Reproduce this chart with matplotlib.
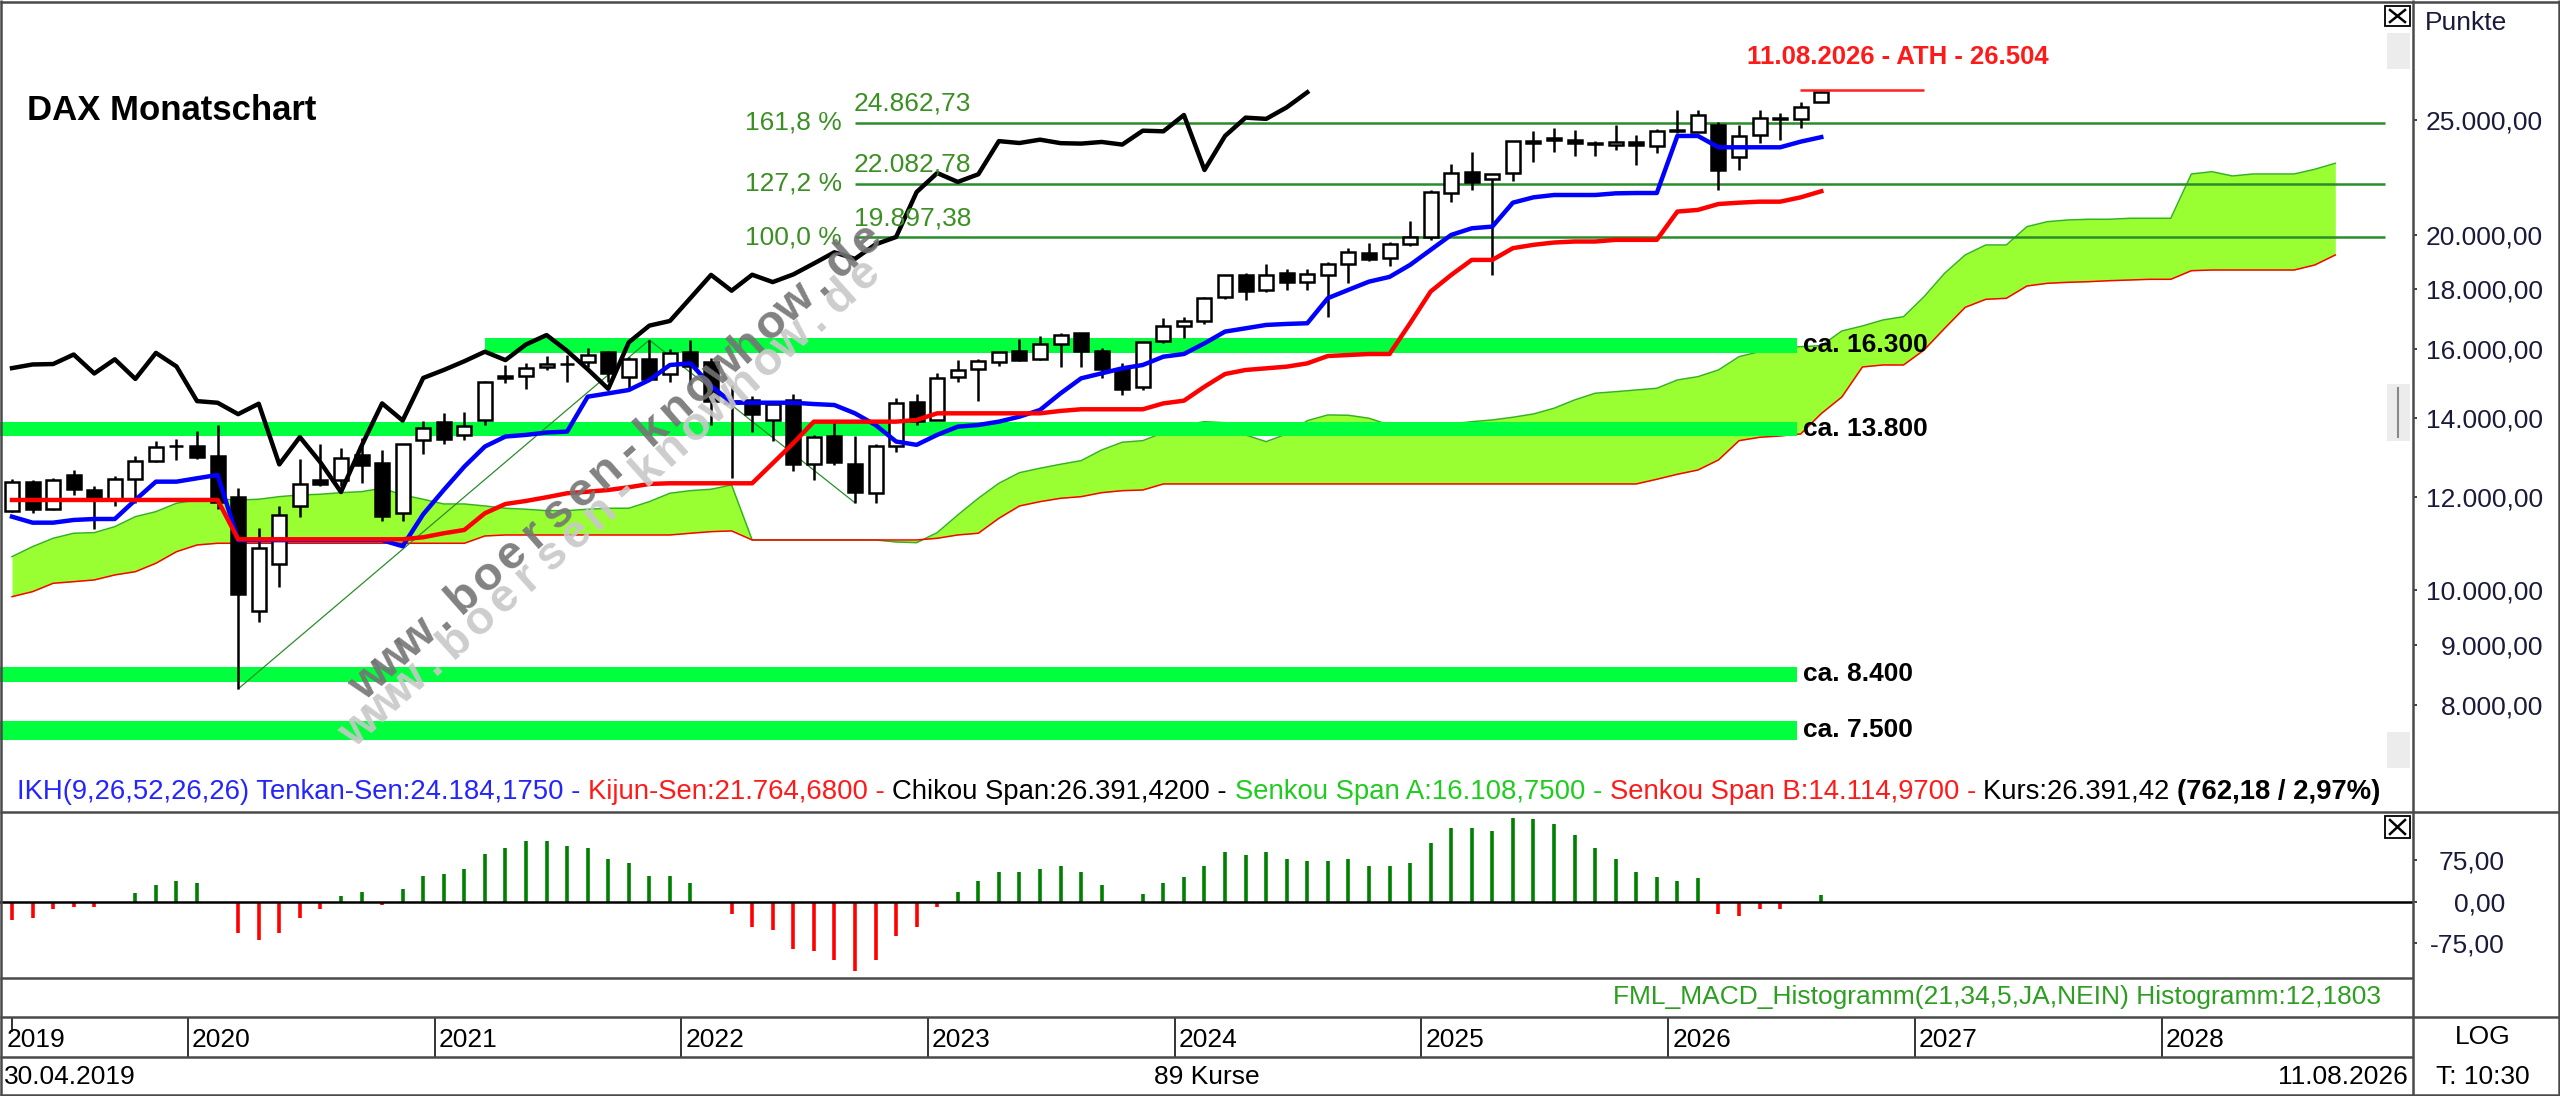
import numpy as np
import matplotlib
matplotlib.use("Agg")
import matplotlib.pyplot as plt
from matplotlib.ticker import NullLocator
from matplotlib.patches import Rectangle

# DAX monthly candles, 30.04.2019 .. 11.08.2026 (89 Kurse)
opens = [11680, 12345, 11730, 12520, 12150, 11950, 12420, 12880, 13250, 13250,
         13000, 12000, 9600, 10520, 11800, 12400, 12400, 13020, 12810, 11620,
         13400, 13890, 13540, 13950, 15180, 15200, 15450, 15550, 15600, 15900,
         15150, 15700, 15250, 15900, 15600, 14460, 14500, 13950, 14500, 12800,
         13500, 12800, 12100, 13250, 14450, 13950, 15150, 15400, 15620, 15930,
         15700, 16150, 16500, 15950, 15400, 14850, 16250, 16750, 16900, 17700,
         18500, 17950, 18550, 18250, 18500, 18900, 19300, 19100, 19650, 19900,
         21700, 22600, 22300, 22550, 24000, 24120, 24050, 23900, 23800, 23950,
         23780, 24500, 24450, 24765, 23280, 24290, 25120, 25040, 25900]
highs = [12435, 12410, 12440, 12656, 12250, 12494, 12988, 13374, 13425, 13640,
         13795, 12200, 11290, 11790, 12913, 13314, 13200, 13460, 13150, 13300,
         13900, 14131, 14169, 15033, 15501, 15568, 15802, 15810, 16030, 15950,
         15750, 16290, 16000, 16285, 15736, 14925, 14600, 14400, 14677, 13531,
         13948, 13522, 13300, 14554, 14675, 15269, 15658, 15706, 15925, 16332,
         16427, 16529, 16500, 16043, 15575, 16240, 17003, 17028, 17699, 18500,
         18568, 18893, 18690, 18700, 18970, 19492, 19675, 19700, 20523, 21800,
         22935, 23476, 22500, 24000, 24479, 24639, 24500, 24000, 24771, 24300,
         24550, 25500, 25500, 24926, 24765, 25499, 25367, 25916, 26504]
lows = [11650, 11620, 11690, 12050, 11266, 11800, 11850, 12850, 12888, 12930,
        11724, 8255, 9400, 10072, 11540, 12250, 12253, 12340, 11450, 11450,
        13040, 13300, 13400, 13800, 14990, 14816, 15350, 15000, 15450, 15000,
        14800, 15100, 15000, 14930, 13808, 12439, 13610, 13381, 12618, 12391,
        12780, 11862, 11869, 13100, 13791, 13950, 15000, 14459, 15483, 15630,
        15660, 15456, 15469, 15138, 14630, 14790, 16200, 16345, 16800, 17660,
        17626, 17900, 17950, 17950, 17025, 18200, 19000, 18800, 19580, 19800,
        21300, 21800, 18489, 22200, 23050, 23500, 23300, 23300, 23600, 22900,
        23465, 24370, 24440, 21819, 22685, 23896, 24052, 24604, 25880]
closes = [12344, 11727, 12399, 12189, 11939, 12428, 12867, 13236, 13249, 12981,
          11890, 9936, 10862, 11587, 12311, 12313, 12945, 12761, 11556, 13291,
          13719, 13433, 13786, 15008, 15136, 15421, 15531, 15544, 15835, 15261,
          15688, 15100, 15885, 15471, 14461, 14415, 14098, 14388, 12784, 13484,
          12835, 12114, 13253, 14397, 13924, 15128, 15365, 15629, 15922, 15664,
          16148, 16447, 15947, 15387, 14810, 16215, 16752, 16904, 17678, 18492,
          17932, 18498, 18235, 18509, 18907, 19325, 19078, 19626, 19909, 21732,
          22551, 22163, 22497, 23997, 23909, 24065, 23902, 23881, 23958, 23836,
          24490, 24460, 25250, 22685, 24240, 25120, 25060, 25629, 26391]

# Ichimoku lines
tenkan = [11546, 11412, 11412, 11472, 11494, 11494, 11928, 12361, 12361, 12443,
          12523, 11030, 11030, 11030, 11030, 11030, 11030, 11030, 11030, 10900,
          11600, 12163, 12728, 13236, 13497, 13540, 13602, 13628, 14586, 14681,
          14777, 15068, 15515, 15565, 14900, 14420, 14416, 14416, 14416, 14379,
          14351, 14121, 13804, 13366, 13280, 13541, 13759, 13804, 13894, 14030,
          14214, 14681, 15117, 15265, 15415, 15515, 15769, 15851, 16184, 16558,
          16665, 16774, 16807, 16829, 17673, 17961, 18250, 18420, 18856, 19415,
          19989, 20250, 20316, 21285, 21508, 21606, 21606, 21606, 21676, 21690,
          21690, 24240, 24240, 23710, 23710, 23710, 23710, 23973, 24184]
kijun = [11928, 11928, 11928, 11928, 11928, 11928, 11928, 11928, 11928, 11928,
         11928, 11049, 11049, 11049, 11049, 11049, 11049, 11049, 11049, 11049,
         11092, 11179, 11251, 11623, 11835, 11905, 11991, 12085, 12122, 12162,
         12227, 12306, 12322, 12322, 12322, 12322, 12322, 12812, 13323, 13894,
         13894, 13894, 13894, 13894, 13939, 14121, 14121, 14121, 14121, 14121,
         14121, 14187, 14233, 14233, 14233, 14233, 14397, 14473, 14873, 15245,
         15365, 15415, 15465, 15565, 15789, 15820, 15851, 15851, 16829, 17902,
         18490, 19040, 19040, 19480, 19607, 19696, 19734, 19734, 19799, 19799,
         19799, 20920, 20988, 21230, 21285, 21327, 21327, 21508, 21765]
span_a = [10681, 10891, 11070, 11179, 11192, 11323, 11546, 11659, 11851, 11928,
          11944, 11928, 11944, 12005, 12045, 12061, 12099, 12122, 12203, 12045,
          11944, 11835, 11835, 11789, 11737, 11714, 11682, 11682, 11714, 11737,
          11737, 11889, 12085, 12146, 12179, 12282, 11034, 11034, 11034, 11034,
          11034, 11034, 11034, 10991, 10976, 11192, 11584, 11967, 12322, 12579,
          12688, 12787, 12877, 13148, 13347, 13389, 13599, 13804, 13893, 13866,
          13538, 13363, 13565, 13920, 14076, 14068, 13986, 13804, 13625, 13625,
          13831, 13893, 13940, 14013, 14103, 14261, 14493, 14684, 14729, 14778,
          14827, 15069, 15166, 15366, 15769, 15923, 16029, 16079, 16110, 16578,
          16740, 16937, 17046, 17723, 18551, 19224, 19602, 19602, 20313, 20512,
          20580, 20608, 20608, 20648, 20648, 20648, 22509, 22610, 22422, 22509,
          22509, 22509, 22716, 22983]
span_b = [9880, 9977, 10141, 10173, 10207, 10307, 10373, 10544, 10785, 10927,
          10963, 10963, 10963, 10963, 10963, 10963, 10963, 10963, 10963, 10963,
          10963, 10963, 10963, 11120, 11142, 11142, 11142, 11142, 11142, 11142,
          11142, 11142, 11142, 11179, 11214, 11230, 11034, 11034, 11034, 11034,
          11034, 11034, 11034, 11034, 11034, 11070, 11142, 11179, 11510, 11789,
          11889, 11967, 12005, 12099, 12146, 12162, 12306, 12306, 12306, 12306,
          12306, 12306, 12306, 12306, 12306, 12306, 12306, 12306, 12306, 12306,
          12306, 12306, 12306, 12306, 12306, 12306, 12306, 12306, 12306, 12306,
          12419, 12540, 12645, 12895, 13389, 13477, 13512, 13565, 14115, 14578,
          15456, 15516, 15516, 15976, 16665, 17360, 17633, 17668, 18096, 18192,
          18227, 18249, 18284, 18309, 18334, 18334, 18644, 18669, 18669, 18669,
          18669, 18669, 18852, 19224]
CHIKOU_SHIFT = 25

macd_hist = [-33, -30, -14, -9, -9, 0, 15, 30, 38, 34,
             0, -57, -69, -57, -30, -14, 10, 18, -6, 22,
             46, 50, 58, 85, 97, 109, 109, 101, 97, 77,
             69, 46, 46, 34, 0, -22, -45, -50, -85, -89,
             -105, -124, -105, -61, -45, -10, 18, 38, 53, 53,
             58, 65, 53, 30, 0, 14, 33, 45, 65, 89,
             84, 89, 77, 73, 73, 77, 65, 65, 69, 105,
             132, 132, 128, 151, 148, 140, 120, 97, 77, 53,
             45, 38, 42, -22, -26, -14, -14, 0, 12.18]

years = [2019, 2020, 2021, 2022, 2023, 2024, 2025, 2026, 2027, 2028]
first_month = 4  # April 2019
price_ticks = [8000, 9000, 10000, 12000, 14000, 16000, 18000, 20000, 25000]
macd_ticks = [-75, 0, 75]

fib_levels = [19897.38, 22082.78, 24862.73]
fib_labels = ["100,0 %", "127,2 %", "161,8 %"]
fib_idx = [11, 31, 41]
fib_px = [8255.65, 16290.19, 11862.84]

band_labels = ["ca. 16.300", "ca. 13.800", "ca. 8.400", "ca. 7.500"]
band_lo = [15890, 13510, 8372, 7474]
band_hi = [16350, 13895, 8621, 7760]
band_from = [23, None, None, None]
ath = 26504

W, H = 2560, 1096
plt.rcParams['font.family'] = ['Liberation Sans', 'DejaVu Sans']


def de(v, nd=2):
    s = f"{v:,.{nd}f}"
    return s.replace(",", "#").replace(".", ",").replace("#", ".")


fig = plt.figure(figsize=(W / 100, H / 100), dpi=100, facecolor='white')


def px_axes(x0, y0, x1, y1, **kw):
    return fig.add_axes([x0 / W, 1 - y1 / H, (x1 - x0) / W, (y1 - y0) / H], **kw)


XL = (-0.584, 116.78)
idx = np.arange(len(closes))
TXT = '#1a1a3a'
FIB = '#2b8c2b'

# ---------------- main price panel
ax = px_axes(0, 0, 2413, 812)
ax.set_yscale('log')
ax.set_xlim(*XL)
ax.set_ylim(6495, 31590)
ax.set_frame_on(False)
ax.set_xticks([])
ax.yaxis.tick_right()
ax.set_yticks(price_ticks)
ax.set_yticklabels([de(v) for v in price_ticks])
ax.yaxis.set_minor_locator(NullLocator())
ax.tick_params(axis='y', direction='out', length=3, width=1.3, color='#333333',
               pad=90.6, labelsize=19, labelcolor=TXT)
for lab in ax.get_yticklabels():
    lab.set_horizontalalignment('right')

cx = np.arange(len(span_a))
ax.fill_between(cx, span_a, span_b, color='#99ff33', lw=0, zorder=1)
ax.plot(cx, span_a, color='#33b41e', lw=1.1, zorder=2)
ax.plot(cx, span_b, color='#ff0000', lw=1.1, zorder=2)

band_end = 86.8
for lab, lo, hi, x0 in zip(band_labels, band_lo, band_hi, band_from):
    x0 = XL[0] if x0 is None else x0
    ax.fill_between([x0, band_end], lo, hi, color='#00ff3c', lw=0, zorder=3)
    ax.text(87.1, np.sqrt(lo * hi), lab, ha='left', va='center', fontsize=19,
            fontweight='bold', color='black', zorder=8)

ax.plot(fib_idx, fib_px, color=FIB, lw=0.9, zorder=4)
for lev, lab in zip(fib_levels, fib_labels):
    ax.hlines(lev, fib_idx[-1], 115.4, color=FIB, lw=1.8, zorder=4)
    ax.text(40.37, lev, lab, ha='right', va='center', color='#3c8f24', fontsize=19, zorder=8)
    ax.annotate(de(lev), (40.95, lev), xytext=(0, 5), textcoords='offset points',
                ha='left', va='bottom', color='#3c8f24', fontsize=19, zorder=8)

o, hi_, lo_, c = (np.array(a, dtype=float) for a in (opens, highs, lows, closes))
ax.vlines(idx, lo_, hi_, color='black', lw=1.8, zorder=5)
ax.bar(idx, np.abs(c - o), bottom=np.minimum(o, c), width=0.68,
       color=['white' if u else 'black' for u in c >= o],
       edgecolor='black', linewidth=1.8, zorder=6)

ax.plot(idx, tenkan, color='#0000ff', lw=3.2, zorder=7)
ax.plot(idx, kijun, color='#ff0000', lw=3.2, zorder=7)
ax.plot(idx[:len(closes) - CHIKOU_SHIFT], c[CHIKOU_SHIFT:], color='black', lw=3.2, zorder=7)

ax.hlines(ath, 86.96, 93.0, color='#ff2020', lw=1.8, zorder=7)
ax.annotate("11.08.2026 - ATH - 26.504", (84.4, ath), xytext=(0, 24),
            textcoords='offset points', ha='left', va='center', color='#ff1a1a',
            fontsize=18.5, fontweight='bold', zorder=8)

ax.text(27 / 2413, 1 - 110 / 812, "DAX Monatschart", transform=ax.transAxes,
        fontsize=25, fontweight='bold', va='center', ha='left')

# ---------------- MACD panel
am = px_axes(0, 812, 2413, 978)
am.set_xlim(*XL)
am.set_ylim(-137.2, 161.3)
am.set_frame_on(False)
am.set_xticks([])
mh = np.array(macd_hist, dtype=float)
am.vlines(idx, 0, mh, colors=np.where(mh >= 0, '#008000', '#ff0000'), lw=2.6)
am.axhline(0, color='black', lw=1.8)
am.yaxis.tick_right()
am.set_yticks(macd_ticks)
am.set_yticklabels([de(v) for v in macd_ticks])
am.tick_params(axis='y', direction='out', length=3, width=1.3, color='#333333',
               pad=63.2, labelsize=19, labelcolor=TXT)
for lab in am.get_yticklabels():
    lab.set_horizontalalignment('right')

# ---------------- date axis
ad = px_axes(0, 1017, 2413, 1057)
ad.set_xlim(*XL)
ad.set_ylim(0, 1)
ad.axis('off')
for y in years:
    if y == years[0]:
        xt = -0.45
        ad.vlines(0, 0.62, 1, color='#333333', lw=1.4)
    else:
        xt = (y - years[0]) * 12 - (first_month - 1) - 0.45
        ad.axvline(xt, color='#333333', lw=1.4)
    ad.annotate(str(y), (xt, 0.43), xytext=(3, 0), textcoords='offset points',
                ha='left', va='center', fontsize=19, color='black')

# ---------------- frame, status bar, watermark
ov = fig.add_axes([0, 0, 1, 1], zorder=10)
ov.set_xlim(0, W)
ov.set_ylim(H, 0)
ov.axis('off')

BORDER = '#4a4a4a'
for x0, x1, y in [(0, 2560, 1.5), (0, 2560, 812), (0, 2413, 978), (0, 2560, 1017),
                  (0, 2413, 1057), (0, 2560, 1094.5)]:
    ov.plot([x0, x1], [y, y], color=BORDER, lw=1.8, solid_capstyle='butt')
for x in [1, 2413, 2558.5]:
    ov.plot([x, x], [0, H], color=BORDER, lw=1.8, solid_capstyle='butt')

for (x, y, w, h) in [(2387, 33, 23, 36), (2387, 384, 23, 57), (2387, 732, 23, 36)]:
    ov.add_patch(Rectangle((x, y), w, h, color='#ececec', lw=0))
ov.plot([2398, 2398], [388, 437], color='#888888', lw=1.5)

for (x, y, w, h) in [(2385, 6, 25, 20), (2385, 816, 25, 22)]:
    ov.add_patch(Rectangle((x, y), w, h, fill=False, edgecolor='black', lw=1.3))
    ov.plot([x + 5, x + w - 5], [y + 4, y + h - 4], color='black', lw=1.8)
    ov.plot([x + 5, x + w - 5], [y + h - 4, y + 4], color='black', lw=1.8)

ov.text(2425, 23, "Punkte", ha='left', va='center', fontsize=19, color=TXT)
ov.text(2483, 1037, "LOG", ha='center', va='center', fontsize=19, color='black')
ov.text(2483, 1077, "T: 10:30", ha='center', va='center', fontsize=19, color='black')
ov.text(4, 1077, "30.04.2019", ha='left', va='center', fontsize=19, color='black')
ov.text(1207, 1077, "89 Kurse", ha='center', va='center', fontsize=19, color='black')
ov.text(2408, 1077, "11.08.2026", ha='right', va='center', fontsize=19, color='black')
ov.text(2381, 997, "FML_MACD_Histogramm(21,34,5,JA,NEIN) Histogramm:12,1803",
        ha='right', va='center', fontsize=19, color='#2e9e22')

# watermark, letters evenly spaced along a diagonal
wm = "www.boersen-knowhow.de"
for (p0, p1, col, al) in [((359, 727), (863, 275), '#c8c8c8', 0.9),
                          ((369, 680), (865, 240), '#747474', 0.9)]:
    dx, dy = p1[0] - p0[0], p1[1] - p0[1]
    ang = np.degrees(np.arctan2(-dy, dx))
    s, co = np.sin(np.radians(ang)), np.cos(np.radians(ang))
    for k, ch in enumerate(wm):
        t = k / (len(wm) - 1)
        px = p0[0] + t * dx + 13 * s
        py = p0[1] + t * dy + 13 * co
        ov.text(px, py, ch, rotation=ang, rotation_mode='anchor', ha='center',
                va='baseline', fontsize=34, fontweight='bold', color=col, alpha=al)

# legend line of the ichimoku panel, coloured pieces placed one after another
segs = [("IKH(9,26,52,26,26) Tenkan-Sen:24.184,1750 - ", '#2424ff', 'normal'),
        ("Kijun-Sen:21.764,6800 - ", '#ff1a1a', 'normal'),
        ("Chikou Span:26.391,4200 - ", '#000000', 'normal'),
        ("Senkou Span A:16.108,7500 - ", '#1fcc1f', 'normal'),
        ("Senkou Span B:14.114,9700 - ", '#ff1a1a', 'normal'),
        ("Kurs:26.391,42 ", '#000000', 'normal'),
        ("(762,18 / 2,97%)", '#000000', 'bold')]
fig.canvas.draw()
r = fig.canvas.get_renderer()
fs = 19
probe = [ov.text(0, 0, s_, fontsize=fs, fontweight=w_) for s_, _, w_ in segs]
total = sum(t.get_window_extent(renderer=r).width for t in probe)
for t in probe:
    t.remove()
fs = fs * 2364 / total
x = 17
for s_, col, w_ in segs:
    t = ov.text(x, 792, s_, fontsize=fs, fontweight=w_, color=col, ha='left', va='center')
    x += t.get_window_extent(renderer=r).width

fig.savefig('out.png', dpi=100, facecolor='white')
